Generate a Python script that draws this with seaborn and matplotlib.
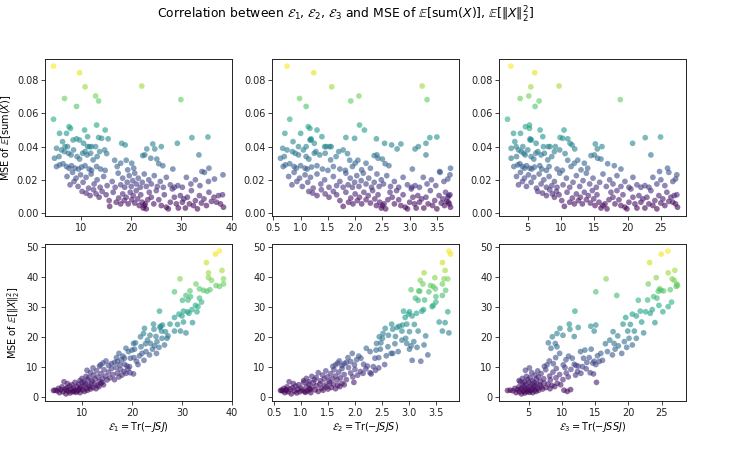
import matplotlib
matplotlib.use("Agg")
import matplotlib.pyplot as plt
from matplotlib.ticker import MultipleLocator
import pandas as pd
import seaborn as sns

# ---------------- top row: MSE of E[sum(X)] ----------------
top_e1 = [4.5, 9.7, 10.8, 22.1, 12.9, 13.5, 6.7, 9.1, 29.9, 4.5, 13.1,
          5.1, 5.7, 6.3, 6.8, 7.1, 7.3, 7.6, 7.9, 8.4, 9.1, 9.7, 10.5, 10.7, 11.3, 11.3, 11.7, 12.1, 12.9, 13.5, 14.1,
          14.8, 15.4, 18.1, 18.8, 23.1, 24.3, 24.7, 26.0, 29.2, 32.1, 35.3,
          4.7, 5.1, 5.6, 5.7, 6.1, 6.4, 6.7, 7.1, 7.5, 7.6, 8.0, 8.1, 8.5, 8.8, 9.2, 9.5, 9.7, 10.1, 10.3, 10.8,
          10.8, 11.2, 11.6, 11.9, 12.1, 12.4, 13.1, 13.2, 13.7, 13.9, 14.7, 14.8, 15.1, 16.7, 17.2, 17.9, 19.0,
          19.3, 20.1, 20.5, 22.3, 22.7, 23.9, 25.1, 25.5, 26.3, 28.3, 33.5, 34.1, 35.5,
          7.2, 7.8, 8.3, 8.6, 9.0, 9.4, 9.9, 10.4, 11.0, 11.5, 12.0, 12.6, 13.2, 13.8, 14.5, 15.2, 16.2, 16.8,
          17.4, 17.9, 18.3, 18.7, 19.2, 19.6, 20.0, 20.3, 20.7, 21.0, 21.4, 21.8, 22.2, 22.6, 23.0, 23.5, 24.0,
          24.6, 25.2, 25.8, 26.4, 27.0, 27.8, 28.6, 29.3, 30.2, 31.0, 31.9, 32.8, 33.7, 34.6, 35.4, 36.6, 38.3,
          10.2, 11.0, 11.8, 12.5, 13.0, 13.6, 14.2, 15.0, 15.6, 15.7, 16.4, 17.0, 17.5, 17.9, 18.3, 18.6, 19.0,
          19.4, 19.8, 20.1, 20.4, 20.7, 21.0, 21.3, 21.6, 21.9, 22.2, 22.4, 22.6, 22.8, 23.0, 23.3, 23.6, 24.0,
          24.5, 25.0, 25.5, 26.0, 26.6, 27.0, 27.4, 27.8, 28.2, 28.6, 29.0, 29.4, 29.8, 30.2, 30.5, 30.8, 31.2,
          31.6, 32.0, 32.4, 32.8, 33.2, 33.6, 34.0, 34.5, 35.0, 35.5, 36.0, 36.5, 37.0, 37.4, 37.8, 38.2, 38.4]
top_e2 = [0.75, 1.24, 1.57, 3.23, 2.07, 1.92, 0.98, 1.10, 3.32, 0.80, 2.08,
          0.67, 0.71, 0.86, 0.96, 1.0, 1.10, 1.14, 1.17, 1.17, 1.19, 1.19, 1.25, 1.3, 1.39, 1.44, 1.47, 1.53, 1.56,
          1.83, 1.99, 2.17, 2.39, 2.54, 2.67, 2.77, 2.84, 3.1, 3.16, 3.3, 3.37, 3.5,
          0.63, 0.68, 0.7, 0.72, 0.75, 0.8, 0.85, 0.88, 0.9, 0.92, 0.96, 1.0, 1.05, 1.08, 1.1, 1.12, 1.15, 1.2,
          1.25, 1.28, 1.3, 1.35, 1.4, 1.45, 1.5, 1.55, 1.6, 1.65, 1.7, 1.72, 1.78, 1.82, 1.86, 1.9, 1.95, 2.0,
          2.05, 2.12, 2.2, 2.28, 2.35, 2.4, 2.42, 2.5, 2.55, 2.62, 3.05, 3.3, 3.55, 3.75,
          0.78, 0.84, 0.88, 0.93, 0.98, 1.03, 1.08, 1.13, 1.18, 1.23, 1.3, 1.37, 1.44, 1.52, 1.6, 1.66, 1.72,
          1.78, 1.83, 1.87, 1.91, 1.95, 1.99, 2.03, 2.07, 2.11, 2.15, 2.2, 2.25, 2.3, 2.35, 2.4, 2.44, 2.48,
          2.52, 2.58, 2.65, 2.72, 2.8, 2.88, 2.96, 3.04, 3.1, 3.18, 3.25, 3.32, 3.4, 3.48, 3.56, 3.63, 3.7, 3.74,
          1.15, 1.22, 1.3, 1.38, 1.45, 1.52, 1.6, 1.66, 1.72, 1.78, 1.83, 1.88, 1.92, 1.96, 2.0, 2.04, 2.08,
          2.12, 2.16, 2.2, 2.24, 2.28, 2.32, 2.36, 2.39, 2.42, 2.45, 2.48, 2.5, 2.53, 2.56, 2.6, 2.64, 2.68,
          2.72, 2.76, 2.8, 2.84, 2.88, 2.92, 2.96, 3.0, 3.03, 3.06, 3.09, 3.12, 3.15, 3.18, 3.22, 3.26, 3.3,
          3.34, 3.38, 3.42, 3.46, 3.5, 3.54, 3.58, 3.61, 3.64, 3.66, 3.68, 3.7, 3.71, 3.72, 3.73, 3.74, 3.75]
top_e3 = [2.45, 6.05, 5.45, 9.7, 5.15, 6.7, 3.85, 6.1, 18.9, 1.95, 5.25,
          2.5, 2.85, 3.05, 3.25, 3.9, 4.25, 4.65, 5.25, 5.35, 5.35, 5.55, 6.25, 6.85, 7.25, 7.35, 8.05, 8.35,
          9.15, 9.85, 10.25, 10.45, 11.0, 11.35, 11.65, 12.05, 15.15, 15.45, 16.15, 20.75, 22.65, 24.95,
          2.5, 2.9, 3.3, 3.5, 3.6, 3.8, 4.0, 4.2, 4.4, 4.5, 4.6, 4.8, 5.0, 5.3, 5.5, 5.6, 5.9, 6.0, 6.2, 6.5,
          6.8, 7.0, 7.1, 7.5, 7.8, 8.0, 8.2, 8.6, 9.0, 9.4, 9.8, 10.2, 10.6, 11.0, 11.5, 12.0, 12.5, 13.0,
          13.5, 14.0, 14.5, 15.0, 15.5, 16.0, 17.0, 18.0, 19.0, 23.5, 24.8, 26.0,
          3.3, 3.6, 3.9, 4.2, 4.5, 4.8, 5.1, 5.5, 5.9, 6.3, 6.7, 7.0, 7.4, 7.8, 8.2, 8.6, 9.0, 9.4, 9.8, 10.3,
          10.8, 11.3, 11.8, 12.3, 12.8, 13.3, 13.8, 14.3, 14.8, 15.3, 15.8, 16.3, 16.8, 17.3, 17.8, 18.4, 19.0,
          19.6, 20.2, 20.8, 21.4, 22.0, 22.6, 23.2, 23.8, 24.4, 25.0, 25.6, 26.2, 26.8, 27.2, 27.4,
          6.5, 7.2, 7.8, 8.3, 8.7, 9.0, 9.3, 9.7, 10.1, 10.5, 10.9, 11.3, 11.7, 12.0, 12.3, 12.6, 12.9, 13.2,
          13.5, 13.8, 14.1, 14.4, 14.7, 14.9, 15.1, 15.4, 15.7, 16.0, 16.3, 16.6, 16.9, 17.2, 17.5, 17.8, 18.1,
          18.4, 18.7, 19.0, 19.3, 19.6, 19.9, 20.2, 20.5, 20.8, 21.1, 21.4, 21.7, 22.0, 22.3, 22.6, 22.9, 23.2,
          23.5, 23.8, 24.1, 24.4, 24.7, 25.0, 25.3, 25.6, 25.9, 26.2, 26.5, 26.8, 27.0, 27.2, 27.4, 27.5]
top_mse = [.0885, .0845, .0760, .0765, .0705, .0675, .0690, .0642, .0683, .0565, .0530,
           .039, .048, .043, .040, .048, .040, .052, .051, .044, .0447, .044, .042, .050, .046, .040, .040, .040,
           .040, .0455, .045, .050, .0447, .042, .041, .0386, .0416, .0386, .040, .042, .0454, .0458,
           .033, .028, .034, .029, .038, .0297, .037, .028, .036, .027, .035, .0285, .038, .027, .034, .0265,
           .0325, .0277, .036, .037, .0285, .035, .0265, .036, .0257, .032, .028, .034, .037, .0265, .038, .0257,
           .0358, .0318, .028, .030, .0318, .026, .030, .027, .0346, .035, .033, .0325, .0297, .0285, .0265,
           .035, .025, .027,
           .022, .017, .0245, .019, .021, .016, .023, .0185, .0215, .015, .0235, .0175, .020, .0155, .022, .0165,
           .019, .0155, .024, .017, .021, .0155, .0185, .0225, .016, .0195, .024, .0175, .021, .0155, .0185,
           .0235, .016, .020, .0175, .0225, .016, .019, .0155, .0215, .017, .0155, .0165, .0155, .0215, .0175,
           .020, .0165, .0245, .019, .0205, .023,
           .013, .012, .0105, .014, .0115, .0095, .013, .011, .0075, .004, .0125, .0065, .009, .0055, .0115,
           .0075, .0095, .0055, .0125, .008, .0105, .006, .0135, .0085, .0045, .011, .0065, .003, .0045, .0055,
           .0025, .008, .0125, .0095, .0055, .0135, .008, .0045, .011, .0035, .0025, .0065, .0145, .0095, .0055,
           .003, .0105, .0065, .0085, .003, .0095, .0055, .0135, .0045, .0075, .0025, .0105, .006, .0085, .0045,
           .0125, .007, .0095, .0065, .0105, .0055, .011, .0035]

# ---------------- bottom row: MSE of E[||X||_2^2] ----------------
bot_e1 = [37.5, 36.7, 34.9, 38.0, 35.3, 35.3, 29.6, 38.3, 35.9, 38.3, 32.8, 36.8, 37.5, 33.5, 34.3, 31.6,
          35.0, 35.6, 28.5, 30.8, 31.7, 33.5,
          21.7, 22.3, 22.5, 23.6, 24.3, 24.4, 24.8, 25.5, 25.6, 25.7, 25.9, 26.1, 26.7, 27.2, 27.6, 28.5, 28.5,
          29.1, 29.4, 29.7, 30.0, 30.1, 30.3, 30.3, 30.8, 31.1, 31.2, 31.4, 32.0, 32.1, 32.7, 33.0, 33.2, 33.9,
          13.5, 13.7, 14.2, 14.8, 15.3, 15.9, 16.5, 16.9, 17.1, 17.4, 17.6, 17.9, 18.2, 18.5, 18.5, 18.8, 19.0,
          19.3, 19.5, 19.7, 20.0, 20.3, 20.4, 20.5, 20.7, 20.9, 21.2, 21.5, 21.8, 22.0, 22.4, 22.7, 22.8, 23.1,
          23.5, 23.7, 24.1, 24.5, 24.9, 25.0, 25.4, 26.0, 26.5, 27.0,
          9.6, 10.0, 10.4, 10.8, 11.1, 11.4, 11.7, 12.0, 12.3, 12.6, 12.9, 13.2, 13.5, 13.8, 14.1, 14.4, 14.7,
          15.0, 15.3, 15.6, 15.9, 16.2, 16.5, 16.8, 17.1, 17.4, 17.7, 18.0, 18.4, 18.8, 19.2, 19.6, 20.3, 11.0,
          14.0, 12.2,
          4.3, 4.6, 5.0, 5.3, 5.5, 5.8, 6.0, 6.2, 6.4, 6.6, 6.8, 7.0, 7.1, 7.3, 7.5, 7.6, 7.8, 8.0, 8.1, 8.3,
          8.5, 8.6, 8.8, 9.0, 9.1, 9.3, 9.5, 9.6, 9.8, 10.0, 10.1, 10.3, 10.5, 10.7, 10.9, 11.1, 11.3, 11.5,
          11.7, 11.9, 12.2, 12.5, 12.8, 13.1, 13.4, 13.8, 14.3, 6.9, 8.4, 9.4]
bot_e2 = [3.74, 3.77, 3.62, 3.67, 3.28, 3.48, 3.65, 3.72, 3.21, 3.62, 3.26, 3.40, 3.45, 3.49, 3.68, 3.18,
          3.20, 3.04, 3.37, 3.62, 3.50, 3.12,
          2.45, 2.52, 2.56, 2.62, 2.68, 2.70, 2.75, 2.90, 2.78, 2.82, 2.87, 2.88, 3.01, 3.31, 2.96, 2.93, 3.17,
          3.10, 2.99, 3.62, 3.06, 3.17, 3.24, 3.56, 3.74, 3.01, 3.29, 3.14, 3.27, 3.67, 3.45, 3.72, 3.43, 3.50,
          1.59, 1.64, 1.68, 1.71, 1.76, 1.8, 1.84, 1.87, 1.92, 1.95, 1.99, 2.03, 2.07, 2.11, 2.16, 2.21, 2.23,
          2.28, 2.34, 2.37, 2.39, 2.4, 2.44, 2.47, 2.48, 3.22, 2.55, 2.58, 2.61, 2.67, 3.06, 2.74, 2.8, 2.87,
          3.35, 2.96, 3.01, 3.04, 2.7, 3.09, 3.15, 2.51, 3.28, 2.94,
          1.05, 1.1, 1.15, 1.2, 1.25, 1.28, 1.32, 1.36, 1.4, 1.43, 1.46, 1.49, 1.52, 1.55, 1.58, 1.61, 1.64,
          1.67, 1.7, 1.73, 1.76, 1.8, 1.84, 1.88, 1.92, 1.96, 2.0, 2.05, 2.1, 2.15, 2.2, 2.28, 2.3, 2.38,
          1.98, 2.44,
          0.62, 0.64, 0.66, 0.68, 0.7, 0.72, 0.74, 0.76, 0.78, 0.8, 0.82, 0.84, 0.86, 0.88, 0.9, 0.92, 0.94,
          0.96, 0.98, 1.0, 1.02, 1.05, 1.08, 1.1, 1.12, 1.14, 1.16, 1.18, 1.2, 1.23, 1.26, 1.29, 1.32, 1.35,
          1.38, 1.41, 1.44, 1.47, 1.5, 1.53, 1.56, 1.6, 1.64, 1.68, 1.72, 1.76, 1.8, 0.73, 1.07, 1.17]
bot_e3 = [25.95, 24.95, 23.2, 27.0, 26.0, 24.2, 16.65, 26.6, 26.9, 27.3, 23.0, 27.4, 27.2, 24.7, 24.9, 25.3,
          24.5, 26.3, 15.1, 18.25, 23.8, 24.3,
          8.55, 9.25, 9.7, 10.15, 11.1, 11.2, 11.85, 11.95, 12.45, 14.35, 14.85, 15.1, 17.7, 18.4, 19.2, 19.6,
          19.9, 20.3, 20.6, 20.9, 21.2, 21.5, 21.8, 22.0, 22.3, 22.6, 22.9, 23.3, 23.6, 24.0, 24.6, 25.2, 26.0,
          26.5,
          7.35, 7.75, 14.65, 8.1, 12.1, 8.7, 13.75, 9.05, 15.6, 9.65, 10.2, 10.6, 11.0, 11.55, 11.85, 8.35,
          12.45, 12.8, 13.1, 13.25, 13.45, 9.0, 14.1, 14.4, 7.95, 14.85, 15.1, 15.35, 9.25, 15.85, 16.1, 16.55,
          16.85, 17.2, 17.6, 17.85, 18.0, 18.5, 19.0, 19.4, 19.75, 20.1, 20.6, 21.2,
          3.55, 4.05, 4.35, 4.65, 4.85, 5.2, 5.45, 5.6, 5.95, 6.15, 6.35, 6.45, 6.75, 6.85, 7.25, 7.55, 8.15,
          8.25, 8.65, 9.1, 9.15, 9.65, 10.15, 10.45, 10.65, 10.95, 11.35, 12.05, 12.35, 12.85, 13.65, 14.25,
          14.75, 4.5, 15.2, 5.1,
          1.8, 2.2, 2.6, 2.9, 3.1, 3.3, 3.5, 3.6, 3.7, 3.8, 3.9, 4.0, 4.1, 4.2, 4.3, 4.4, 4.5, 4.6, 4.7, 4.8,
          4.9, 5.0, 5.1, 5.2, 5.3, 5.4, 5.5, 5.6, 5.7, 5.8, 5.9, 6.0, 6.1, 6.2, 6.3, 6.5, 6.7, 6.9, 7.1, 7.3,
          7.6, 7.9, 8.2, 8.5, 8.9, 9.3, 9.8, 10.3, 10.8, 11.3]
bot_mse = [48.5, 47.5, 44.7, 42.1, 41.3, 39.7, 39.3, 39.3, 38.8, 37.6, 37.6, 37.1, 36.8, 36.0, 35.5, 35.3,
           35.2, 35.7, 35.0, 33.8, 33.4, 32.9,
           20.1, 21.2, 22.9, 20.6, 24.3, 22.6, 20.2, 28.6, 23.2, 23.6, 22.0, 24.0, 21.8, 20.4, 24.3, 26.5, 22.0,
           24.2, 27.6, 22.0, 27.0, 32.2, 28.6, 25.0, 21.4, 28.4, 32.3, 27.9, 29.1, 24.8, 30.5, 28.4, 30.1, 31.6,
           10.3, 10.8, 11.4, 12.1, 10.6, 11.2, 11.6, 13.2, 11.9, 14.6, 10.8, 12.5, 13.7, 13.0, 11.0, 16.3, 10.4,
           15.2, 10.2, 13.0, 15.7, 17.9, 13.2, 16.0, 18.1, 12.0, 10.9, 13.8, 16.8, 14.6, 12.3, 17.8, 15.2, 19.0,
           14.1, 17.9, 16.0, 17.1, 14.6, 18.5, 16.6, 19.6, 17.4, 19.6,
           5.6, 6.3, 5.2, 7.0, 5.9, 6.6, 8.2, 5.5, 7.4, 6.1, 8.8, 6.8, 5.3, 7.9, 6.2, 9.2, 7.1, 5.8, 8.4, 6.5,
           9.6, 7.6, 5.9, 9.9, 8.1, 6.8, 9.3, 7.4, 8.6, 8.0, 9.5, 8.2, 7.8, 9.0, 5.0, 9.8,
           2.3, 2.4, 2.2, 3.0, 1.6, 2.6, 3.5, 1.9, 5.2, 2.8, 1.2, 3.2, 4.6, 2.1, 3.8, 1.5, 2.7, 4.2, 1.9, 3.1,
           2.4, 5.0, 1.7, 3.6, 2.2, 4.4, 2.9, 1.6, 3.4, 4.9, 2.5, 3.9, 2.0, 4.5, 3.0, 2.4, 4.1, 3.5, 2.8, 4.8,
           3.3, 4.4, 2.9, 4.0, 3.6, 4.7, 4.2, 2.4, 2.0, 2.6]

x_labels = [r"$\mathcal{E}_1 = \mathrm{Tr}(-JSJ)$",
            r"$\mathcal{E}_2 = \mathrm{Tr}(-JSJS)$",
            r"$\mathcal{E}_3 = \mathrm{Tr}(-JSSJ)$"]
y_labels = [r"MSE of $\mathbb{E}[\mathrm{sum}(X)]$",
            r"MSE of $\mathbb{E}[\|X\|_2^2]$"]
x_steps = [10, 0.5, 5]
title = (r"Correlation between $\mathcal{E}_1$, $\mathcal{E}_2$, $\mathcal{E}_3$ and MSE of "
         r"$\mathbb{E}[\mathrm{sum}(X)]$, $\mathbb{E}[\|X\|_2^2]$")


def frame(e1, e2, e3, y):
    n = min(len(e1), len(e2), len(e3), len(y))
    return pd.DataFrame({"E1": e1[:n], "E2": e2[:n], "E3": e3[:n], "y": y[:n]})


rows = [frame(top_e1, top_e2, top_e3, top_mse), frame(bot_e1, bot_e2, bot_e3, bot_mse)]

fig, axes = plt.subplots(2, 3, figsize=(7.34, 4.59), dpi=100)
fig.subplots_adjust(left=0.0613, right=0.9346, top=0.8715, bottom=0.1264, wspace=0.214, hspace=0.178)

for i, df in enumerate(rows):
    for j, col in enumerate(["E1", "E2", "E3"]):
        ax = axes[i, j]
        sns.scatterplot(data=df, x=col, y="y", hue="y", palette="viridis", legend=False,
                        s=17, alpha=0.6, linewidth=0, ax=ax)
        ax.xaxis.set_major_locator(MultipleLocator(x_steps[j]))
        ax.tick_params(labelsize=7, length=2.6, width=0.6, pad=2.2, colors="#222222")
        ax.set_xlabel(x_labels[j] if i == 1 else "", fontsize=7, labelpad=1.5)
        ax.set_ylabel(y_labels[i] if j == 0 else "", fontsize=7, labelpad=3)
        for sp in ax.spines.values():
            sp.set_linewidth(0.7)
            sp.set_color("#222222")

fig.suptitle(title, x=0.47, y=0.968, fontsize=8.9, va="center")
fig.savefig("out.png", dpi=100)
